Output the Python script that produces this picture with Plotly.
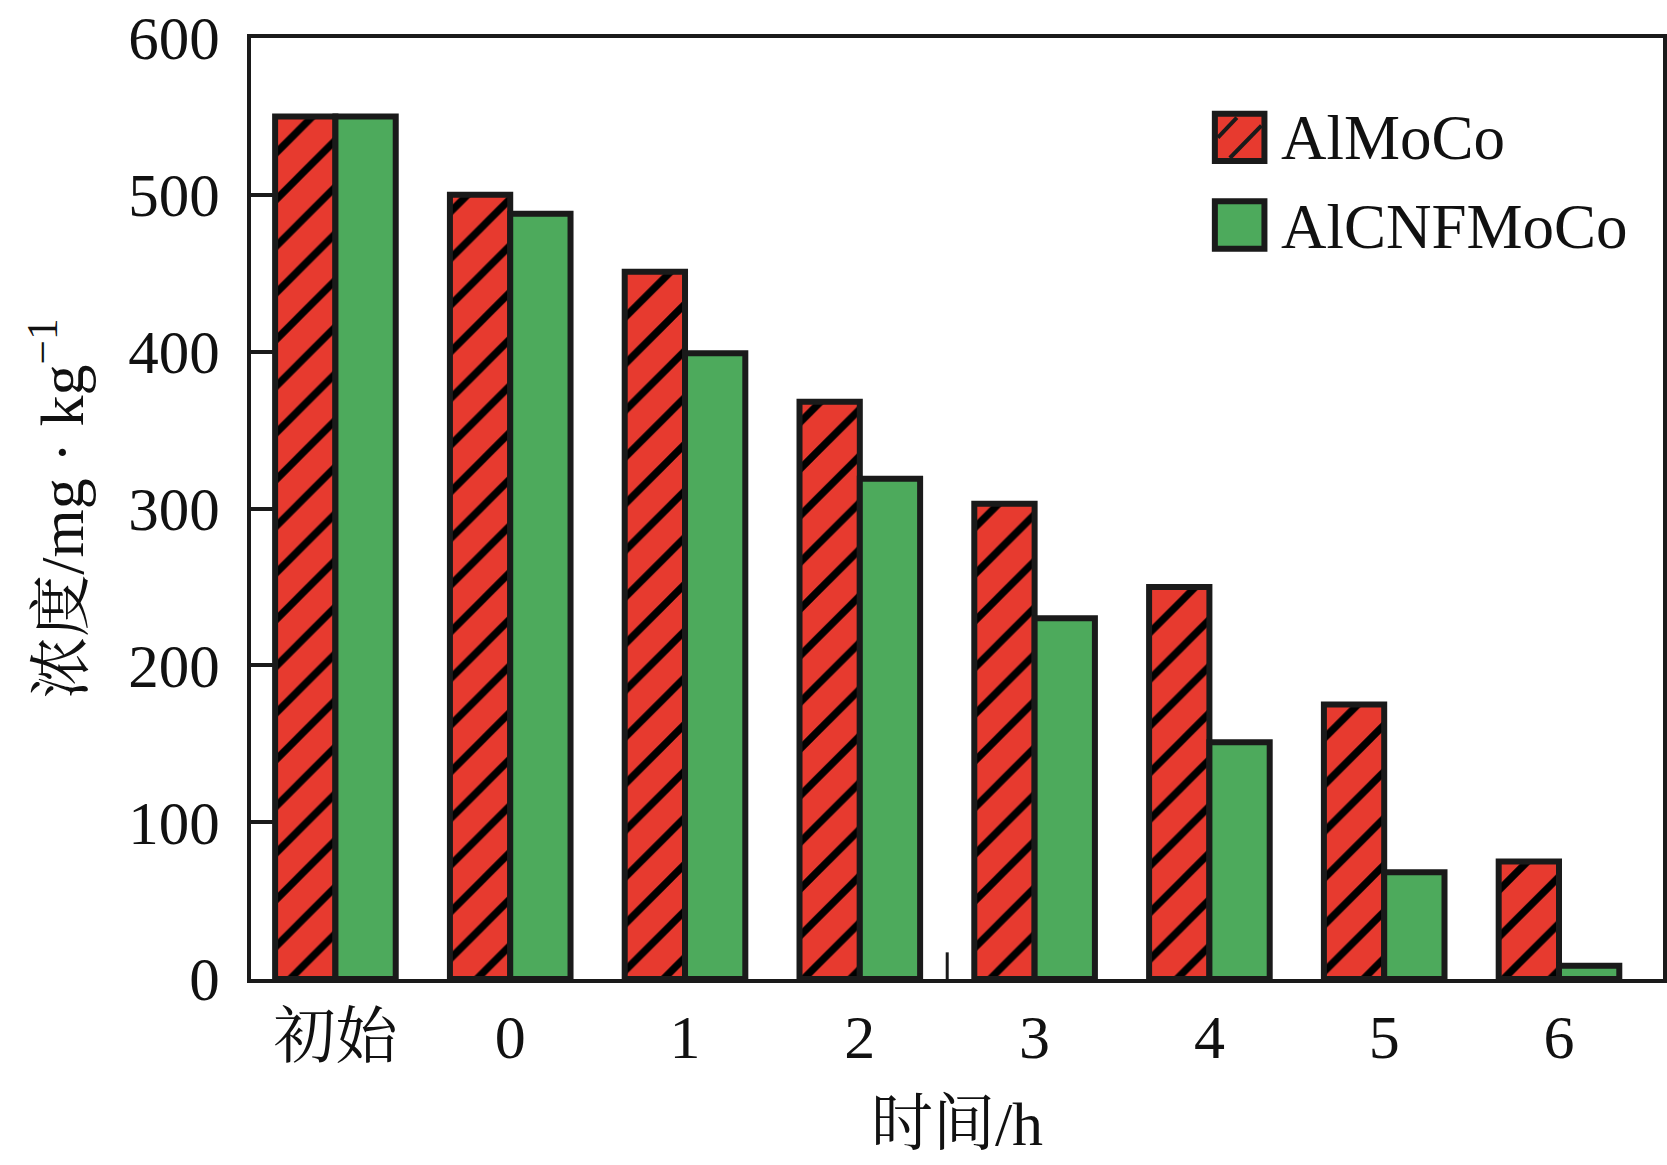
import plotly.graph_objects as go

categories = ["初始", "0", "1", "2", "3", "4", "5", "6"]
almoco = [550, 500, 451, 368, 303, 250, 175, 75]
alcnfmoco = [550, 488, 399, 319, 230, 151, 68, 8.5]
series_names = ["AlMoCo", "AlCNFMoCo"]
y_ticks = [0, 100, 200, 300, 400, 500, 600]

RED = "#E73A2F"
GREEN = "#4DAA5C"
EDGE = "#1A1A1A"
FONT = "Liberation Serif, Noto Serif CJK SC, Noto Sans CJK SC, serif"

FIG_W, FIG_H = 1667, 1165

fig = go.Figure()
fig.add_trace(go.Bar(
    x=categories, y=almoco, name=series_names[0],
    marker=dict(color=RED, line=dict(color=EDGE, width=6),
                pattern=dict(shape="/", fgcolor="#000000", bgcolor=RED, size=33, solidity=0.22)),
    showlegend=False,
))
fig.add_trace(go.Bar(
    x=categories, y=alcnfmoco, name=series_names[1],
    marker=dict(color=GREEN, line=dict(color=EDGE, width=6)),
    showlegend=False,
))

# plot area in pixels
L = 250.5; R = 1663; T = 38; B = 979
W = R - L; H = B - T
def px(x): return (x - L) / W
def py(y): return (B - y) / H

shapes = []
rx0, rx1, ry0, ry1 = 1214.7, 1264.3, 113.7, 161
shapes.append(dict(type="rect", xref="paper", yref="paper", x0=px(rx0), x1=px(rx1), y0=py(ry1), y1=py(ry0),
                   fillcolor=RED, line=dict(color=EDGE, width=6), layer="above"))
shapes.append(dict(type="line", xref="paper", yref="paper", x0=px(rx0 + 3), y0=py(ry0 + 24), x1=px(rx0 + 22), y1=py(ry0 + 4),
                   line=dict(color=EDGE, width=4), layer="above"))
shapes.append(dict(type="line", xref="paper", yref="paper", x0=px(rx0 + 15), y0=py(ry1 - 3), x1=px(rx1 - 3), y1=py(ry0 + 12),
                   line=dict(color=EDGE, width=4), layer="above"))
gy0, gy1 = 201.3, 248.7
shapes.append(dict(type="rect", xref="paper", yref="paper", x0=px(rx0), x1=px(rx1), y0=py(gy1), y1=py(gy0),
                   fillcolor=GREEN, line=dict(color=EDGE, width=6), layer="above"))
# stray small tick mark between groups "2" and "3"
shapes.append(dict(type="line", xref="x", yref="y", x0=3.5, x1=3.5, y0=0, y1=17,
                   line=dict(color=EDGE, width=3)))

annotations = [
    dict(xref="paper", yref="paper", x=px(1279), y=py(138), xanchor="left", yanchor="middle",
         text=series_names[0], showarrow=False, font=dict(family=FONT, size=63, color="#111")),
    dict(xref="paper", yref="paper", x=px(1279), y=py(227), xanchor="left", yanchor="middle",
         text=series_names[1], showarrow=False, font=dict(family=FONT, size=63, color="#111")),
]

fig.update_layout(
    template="none",
    width=FIG_W, height=FIG_H,
    margin=dict(l=L, r=FIG_W - R, t=T, b=FIG_H - B, autoexpand=False),
    paper_bgcolor="white", plot_bgcolor="white",
    barmode="group", bargap=0.31, bargroupgap=0,
    font=dict(family=FONT, size=60, color="#111"),
    shapes=shapes, annotations=annotations,
    showlegend=False,
)
fig.update_xaxes(
    type="category", range=[-0.483, 7.595], automargin=False,
    showline=True, linecolor=EDGE, linewidth=4, mirror=True,
    ticks="", showgrid=False, ticklabelstandoff=1,
    tickfont=dict(family=FONT, size=62, color="#111"),
    title=dict(text="时间/h", font=dict(family=FONT, size=62, color="#111"), standoff=32),
)
fig.update_yaxes(
    range=[0, 600], tickvals=y_ticks, automargin=False,
    showline=True, linecolor=EDGE, linewidth=4, mirror=True,
    ticks="inside", ticklen=22, tickwidth=4, tickcolor=EDGE,
    showgrid=False, zeroline=False, ticklabelstandoff=15, ticklabeloverflow="allow",
    tickfont=dict(family=FONT, size=61, color="#111"),
    title=dict(text="浓度/mg · kg<sup>−1</sup>", font=dict(family=FONT, size=62, color="#111"), standoff=26),
)

# remove the browser's default 8px body margin so the figure fills the window exactly
fig.write_html("out.html", config={"displayModeBar": False},
               post_script="document.body.style.margin='0px';")
